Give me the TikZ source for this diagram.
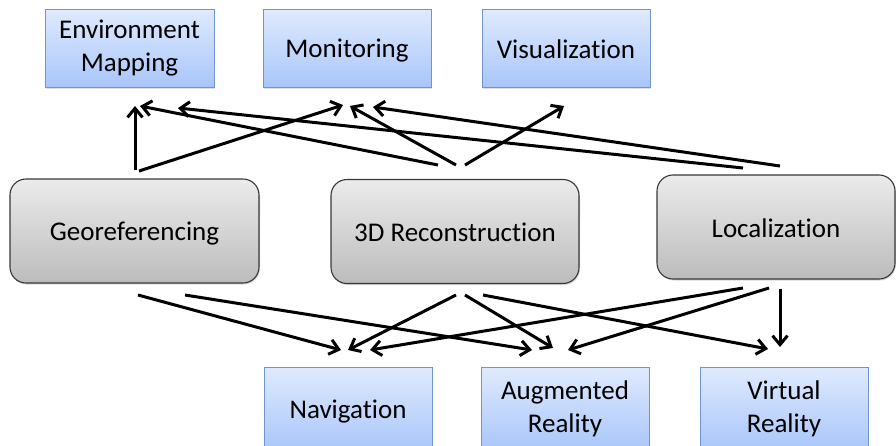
\documentclass[tikz,border=0pt]{standalone}
\usepackage{fontspec}
\setmainfont{Carlito}[Ligatures={NoCommon,NoContextual},Contextuals=NoAlternate]
\usetikzlibrary{arrows.meta,shadows}
\definecolor{blueTop}{HTML}{E0EAFD}
\definecolor{blueBot}{HTML}{A8C6FA}
\definecolor{blueEdge}{HTML}{7095CC}
\definecolor{grayTop}{HTML}{EBEBEB}
\definecolor{grayBot}{HTML}{BCBCBC}
\definecolor{grayEdge}{HTML}{383838}
% fixed line height and depth, so every label sits at the same level
\newcommand\lblstrut{\rule[-4pt]{0pt}{28pt}}
\tikzset{
  labeltext/.style={align=center, inner sep=0pt, font=\fontsize{27}{33}\selectfont,
    execute at begin node=\lblstrut, execute at end node=\lblstrut},
  appbox/.style={labeltext, draw=blueEdge, line width=0.9pt, top color=blueTop, bottom color=blueBot,
    minimum width=168pt, minimum height=78pt,
    drop shadow={opacity=0.25, shadow xshift=1pt, shadow yshift=-1.5pt}},
  corebox/.style={labeltext, draw=grayEdge, line width=1.1pt, rounded corners=16pt, top color=grayTop, bottom color=grayBot,
    minimum height=104pt,
    drop shadow={opacity=0.3, shadow xshift=1pt, shadow yshift=-1.5pt}},
  link/.style={line width=3pt, -{Straight Barb[length=9pt,width=15pt]}}
}
\begin{document}
\begin{tikzpicture}[x=1pt,y=-1pt]
\useasboundingbox (0,0) rectangle (896,445);
\clip (0,0) rectangle (896,445);
\fill[white] (0,0) rectangle (896,445);

% application boxes, top row
\node[appbox, minimum width=169pt] (env) at (129.5,48) {Environment\\Mapping};
\node[appbox] (mon) at (347,48) {Monitoring};
\node[appbox] (vis) at (566,48) {Visualization};

% core techniques, middle row
\node[corebox, minimum width=249pt] (geo) at (134.5,231) {Georeferencing};
\node[corebox, minimum width=248pt] (rec) at (455,231.5) {3D Reconstruction};
\node[corebox, minimum width=238pt] (loc) at (776,227) {Localization};

% application boxes, bottom row
\node[appbox, minimum height=84pt] (nav) at (348,409) {Navigation};
\node[appbox, minimum height=84pt] (ar) at (565,409) {Augmented\\Reality};
\node[appbox, minimum height=84pt] (vr) at (784,409) {Virtual\\Reality};

% end points of the upward links
\coordinate (geoU1) at (135,170);
\coordinate (geoU2) at (139,171);
\coordinate (recU1) at (438,165);
\coordinate (recU2) at (456,165);
\coordinate (recU3) at (465,165);
\coordinate (locU1) at (743,168);
\coordinate (locU2) at (780,166);
\coordinate (envA) at (135,106);
\coordinate (envB) at (140,106);
\coordinate (envC) at (178,108);
\coordinate (monA) at (343,105);
\coordinate (monB) at (350,106);
\coordinate (monC) at (373,107);
\coordinate (visA) at (564,106);

% end points of the downward links
\coordinate (geoD1) at (138,295);
\coordinate (geoD2) at (185,295);
\coordinate (recD1) at (456,295);
\coordinate (recD2) at (465,295);
\coordinate (recD3) at (483,295);
\coordinate (locD1) at (743,288);
\coordinate (locD2) at (769,288);
\coordinate (locD3) at (780,289);
\coordinate (navA) at (341,350);
\coordinate (navB) at (348,350);
\coordinate (navC) at (370,350);
\coordinate (arA) at (532,350);
\coordinate (arB) at (553,348);
\coordinate (arC) at (568,350);
\coordinate (vrA) at (768,349);
\coordinate (vrB) at (780,347);

\draw[link] (geoU1) -- (envA);
\draw[link] (geoU2) -- (monA);
\draw[link] (recU1) -- (envB);
\draw[link] (recU2) -- (monB);
\draw[link] (recU3) -- (visA);
\draw[link] (locU1) -- (envC);
\draw[link] (locU2) -- (monC);

\draw[link] (geoD1) -- (navA);
\draw[link] (geoD2) -- (arA);
\draw[link] (recD1) -- (navB);
\draw[link] (recD2) -- (arB);
\draw[link] (recD3) -- (vrA);
\draw[link] (locD1) -- (navC);
\draw[link] (locD2) -- (arC);
\draw[link] (locD3) -- (vrB);
\end{tikzpicture}
\end{document}
